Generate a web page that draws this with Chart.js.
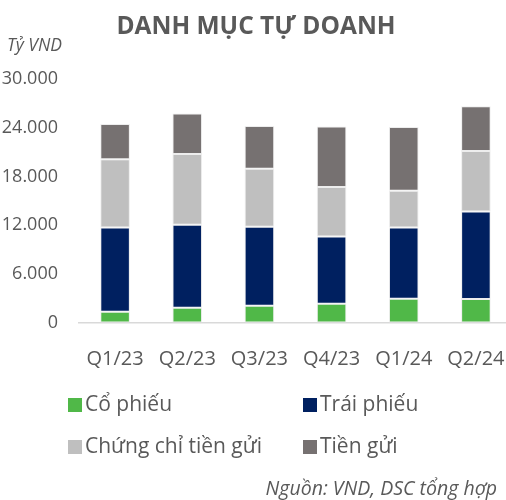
<!DOCTYPE html>
<html>
<head>
<meta charset="utf-8">
<script src="https://cdn.jsdelivr.net/npm/chart.js@4/dist/chart.umd.min.js"></script>
<style>
html,body{margin:0;padding:0;background:#fff;overflow:hidden;width:506px;height:500px;}
#wrap{position:absolute;left:0;top:0;width:512px;height:500px;}
</style>
</head>
<body>
<div id="wrap"><canvas id="c" width="512" height="500"></canvas></div>
<script>
const categories = ["Q1/23","Q2/23","Q3/23","Q4/23","Q1/24","Q2/24"];
const seriesNames = ["Cổ phiếu","Trái phiếu","Chứng chỉ tiền gửi","Tiền gửi"];
const coPhieu   = [1330, 1830, 2070, 2320, 2940, 2900];
const traiPhieu = [10370, 10210, 9720, 8280, 8760, 10780];
const chungChi  = [8400, 8730, 7160, 6090, 4530, 7450];
const tienGui   = [4370, 4970, 5270, 7450, 7870, 5520];
const yTicks = [0, 6000, 12000, 18000, 24000, 30000];
const titleText = "DANH MỤC TỰ DOANH";
const unitText = "Tỷ VND";
const sourceText = "Nguồn: VND, DSC tổng hợp";
const colors = ["#50B848","#002060","#BFBFBF","#767171"];
const TXT = "#595959";
const FONT = "'Open Sans', sans-serif";

const seriesValues = [coPhieu, traiPhieu, chungChi, tienGui];

const decor = {
  id: 'decor',
  afterDraw(chart) {
    const ctx = chart.ctx;
    ctx.save();
    ctx.fillStyle = TXT;
    ctx.textBaseline = 'middle';
    ctx.textAlign = 'center';
    ctx.font = "bold 24.5px " + FONT;
    ctx.fillText(titleText, 256, 27);
    ctx.textAlign = 'left';
    ctx.font = "italic 17.5px " + FONT;
    ctx.fillText(unitText, 7, 46);
    // legend
    const pos = [[68, 405],[303, 405],[68, 447],[303, 447]];
    ctx.font = "21px " + FONT;
    chart.data.datasets.forEach((ds, i) => {
      const [x, y] = pos[i];
      ctx.fillStyle = ds.backgroundColor;
      ctx.fillRect(x, y - 7, 14, 14);
      ctx.fillStyle = TXT;
      ctx.fillText(ds.label, x + 17, y);
    });
    ctx.textAlign = 'right';
    ctx.font = "italic 19.5px " + FONT;
    ctx.fillText(sourceText, 497, 489);
    ctx.restore();
  }
};

new Chart(document.getElementById('c'), {
  type: 'bar',
  data: {
    labels: categories,
    datasets: seriesNames.map((n, i) => ({
      label: n,
      data: seriesValues[i],
      backgroundColor: colors[i],
      borderColor: 'rgba(235,235,235,0.9)',
      borderWidth: 1,
      borderSkipped: false,
      barPercentage: 0.41,
      categoryPercentage: 1.0
    }))
  },
  options: {
    responsive: false,
    animation: false,
    layout: { padding: { top: 79, left: 0, right: 0, bottom: 0 } },
    plugins: { legend: { display: false }, title: { display: false }, tooltip: { enabled: false } },
    scales: {
      x: {
        stacked: true,
        grid: { display: false, drawTicks: false },
        border: { display: true, color: '#D9D9D9', width: 1.5 },
        ticks: { color: TXT, font: { family: FONT, size: 20 }, padding: 25, maxRotation: 0 },
        afterFit(s) { s.height = 177.5; s.paddingLeft = 0; s.paddingRight = 0; }
      },
      y: {
        stacked: true,
        min: 0, max: 30000,
        afterBuildTicks(s) { s.ticks = yTicks.map(v => ({ value: v })); },
        grid: { display: false, drawTicks: false },
        border: { display: false },
        ticks: {
          color: TXT, font: { family: FONT, size: 18 }, padding: 21,
          callback: v => v.toLocaleString('de-DE')
        },
        afterFit(s) { s.width = 79; }
      }
    }
  },
  plugins: [decor]
});
</script>
</body>
</html>
